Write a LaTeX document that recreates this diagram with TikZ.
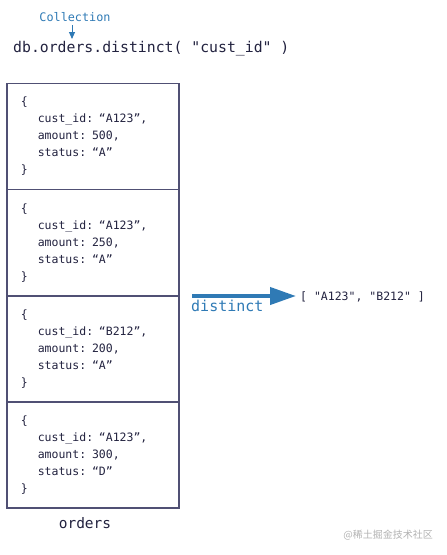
\documentclass[tikz,border=0pt]{standalone}
\usepackage{fontspec}
\setmonofont{DejaVu Sans Mono}
\newfontfamily\cjkfont{Noto Sans CJK SC}
\usetikzlibrary{arrows.meta,positioning}
\definecolor{mongoblue}{HTML}{2F7AB5}
\definecolor{inkdark}{HTML}{22223F}
\definecolor{boxline}{HTML}{505074}
\newcommand{\ind}{\hspace*{17pt}}

\begin{document}
\begin{tikzpicture}[x=1pt, y=-1pt, >={Triangle[length=7pt, width=6pt]},
    every node/.style={font=\ttfamily, text=inkdark},
    docbox/.style={draw=boxline, line width=1.6pt, minimum width=172pt, minimum height=106.2pt,
      text width=144pt, inner xsep=14pt, align=left, font=\ttfamily\fontsize{11.5}{17}\selectfont}]
  \useasboundingbox (0,0) rectangle (447,555);
  % query line
  \node[anchor=center, text=mongoblue, font=\ttfamily\fontsize{11.8}{13}\selectfont] (coll) at (75,17) {Collection};
  \node[anchor=base west, inner sep=0pt, font=\ttfamily\fontsize{14.8}{17}\selectfont] (cmd) at (13,52) {db.orders.distinct( "cust\_id" )};
  \draw[->, mongoblue, line width=0.9pt] (72,25) -- (72,39);
  % documents
  \node[docbox, anchor=north west] (doc1) at (6,82.5)
    {\{\\ \ind cust\_id: “A123”,\\ \ind amount: 500,\\ \ind status: “A”\\ \}};
  \node[docbox, below=-1.6pt of doc1] (doc2)
    {\{\\ \ind cust\_id: “A123”,\\ \ind amount: 250,\\ \ind status: “A”\\ \}};
  \node[docbox, below=-1.6pt of doc2] (doc3)
    {\{\\ \ind cust\_id: “B212”,\\ \ind amount: 200,\\ \ind status: “A”\\ \}};
  \node[docbox, below=-1.6pt of doc3] (doc4)
    {\{\\ \ind cust\_id: “A123”,\\ \ind amount: 300,\\ \ind status: “D”\\ \}};
  \node[font=\ttfamily\fontsize{14.5}{17}\selectfont] (coll name) at (85,523) {orders};
  % result
  \node[anchor=west, inner sep=0pt, font=\ttfamily\fontsize{11.5}{14}\selectfont] (result) at (300,297) {[ "A123", "B212" ]};
  \coordinate (start) at (192,296);
  \draw[mongoblue, line width=4pt, -{Triangle[length=26pt, width=17pt]}] (start) -- ([xshift=-4pt]result.west |- start);
  \node[anchor=north west, inner sep=0pt, text=mongoblue, font=\ttfamily\fontsize{15}{17}\selectfont] (op) at (191,300) {distinct};
  % watermark
  \node[anchor=east, inner sep=0pt, text=black!30, font=\cjkfont\fontsize{10}{12}\selectfont] (mark) at (433,535) {@稀土掘金技术社区};
\end{tikzpicture}
\end{document}
